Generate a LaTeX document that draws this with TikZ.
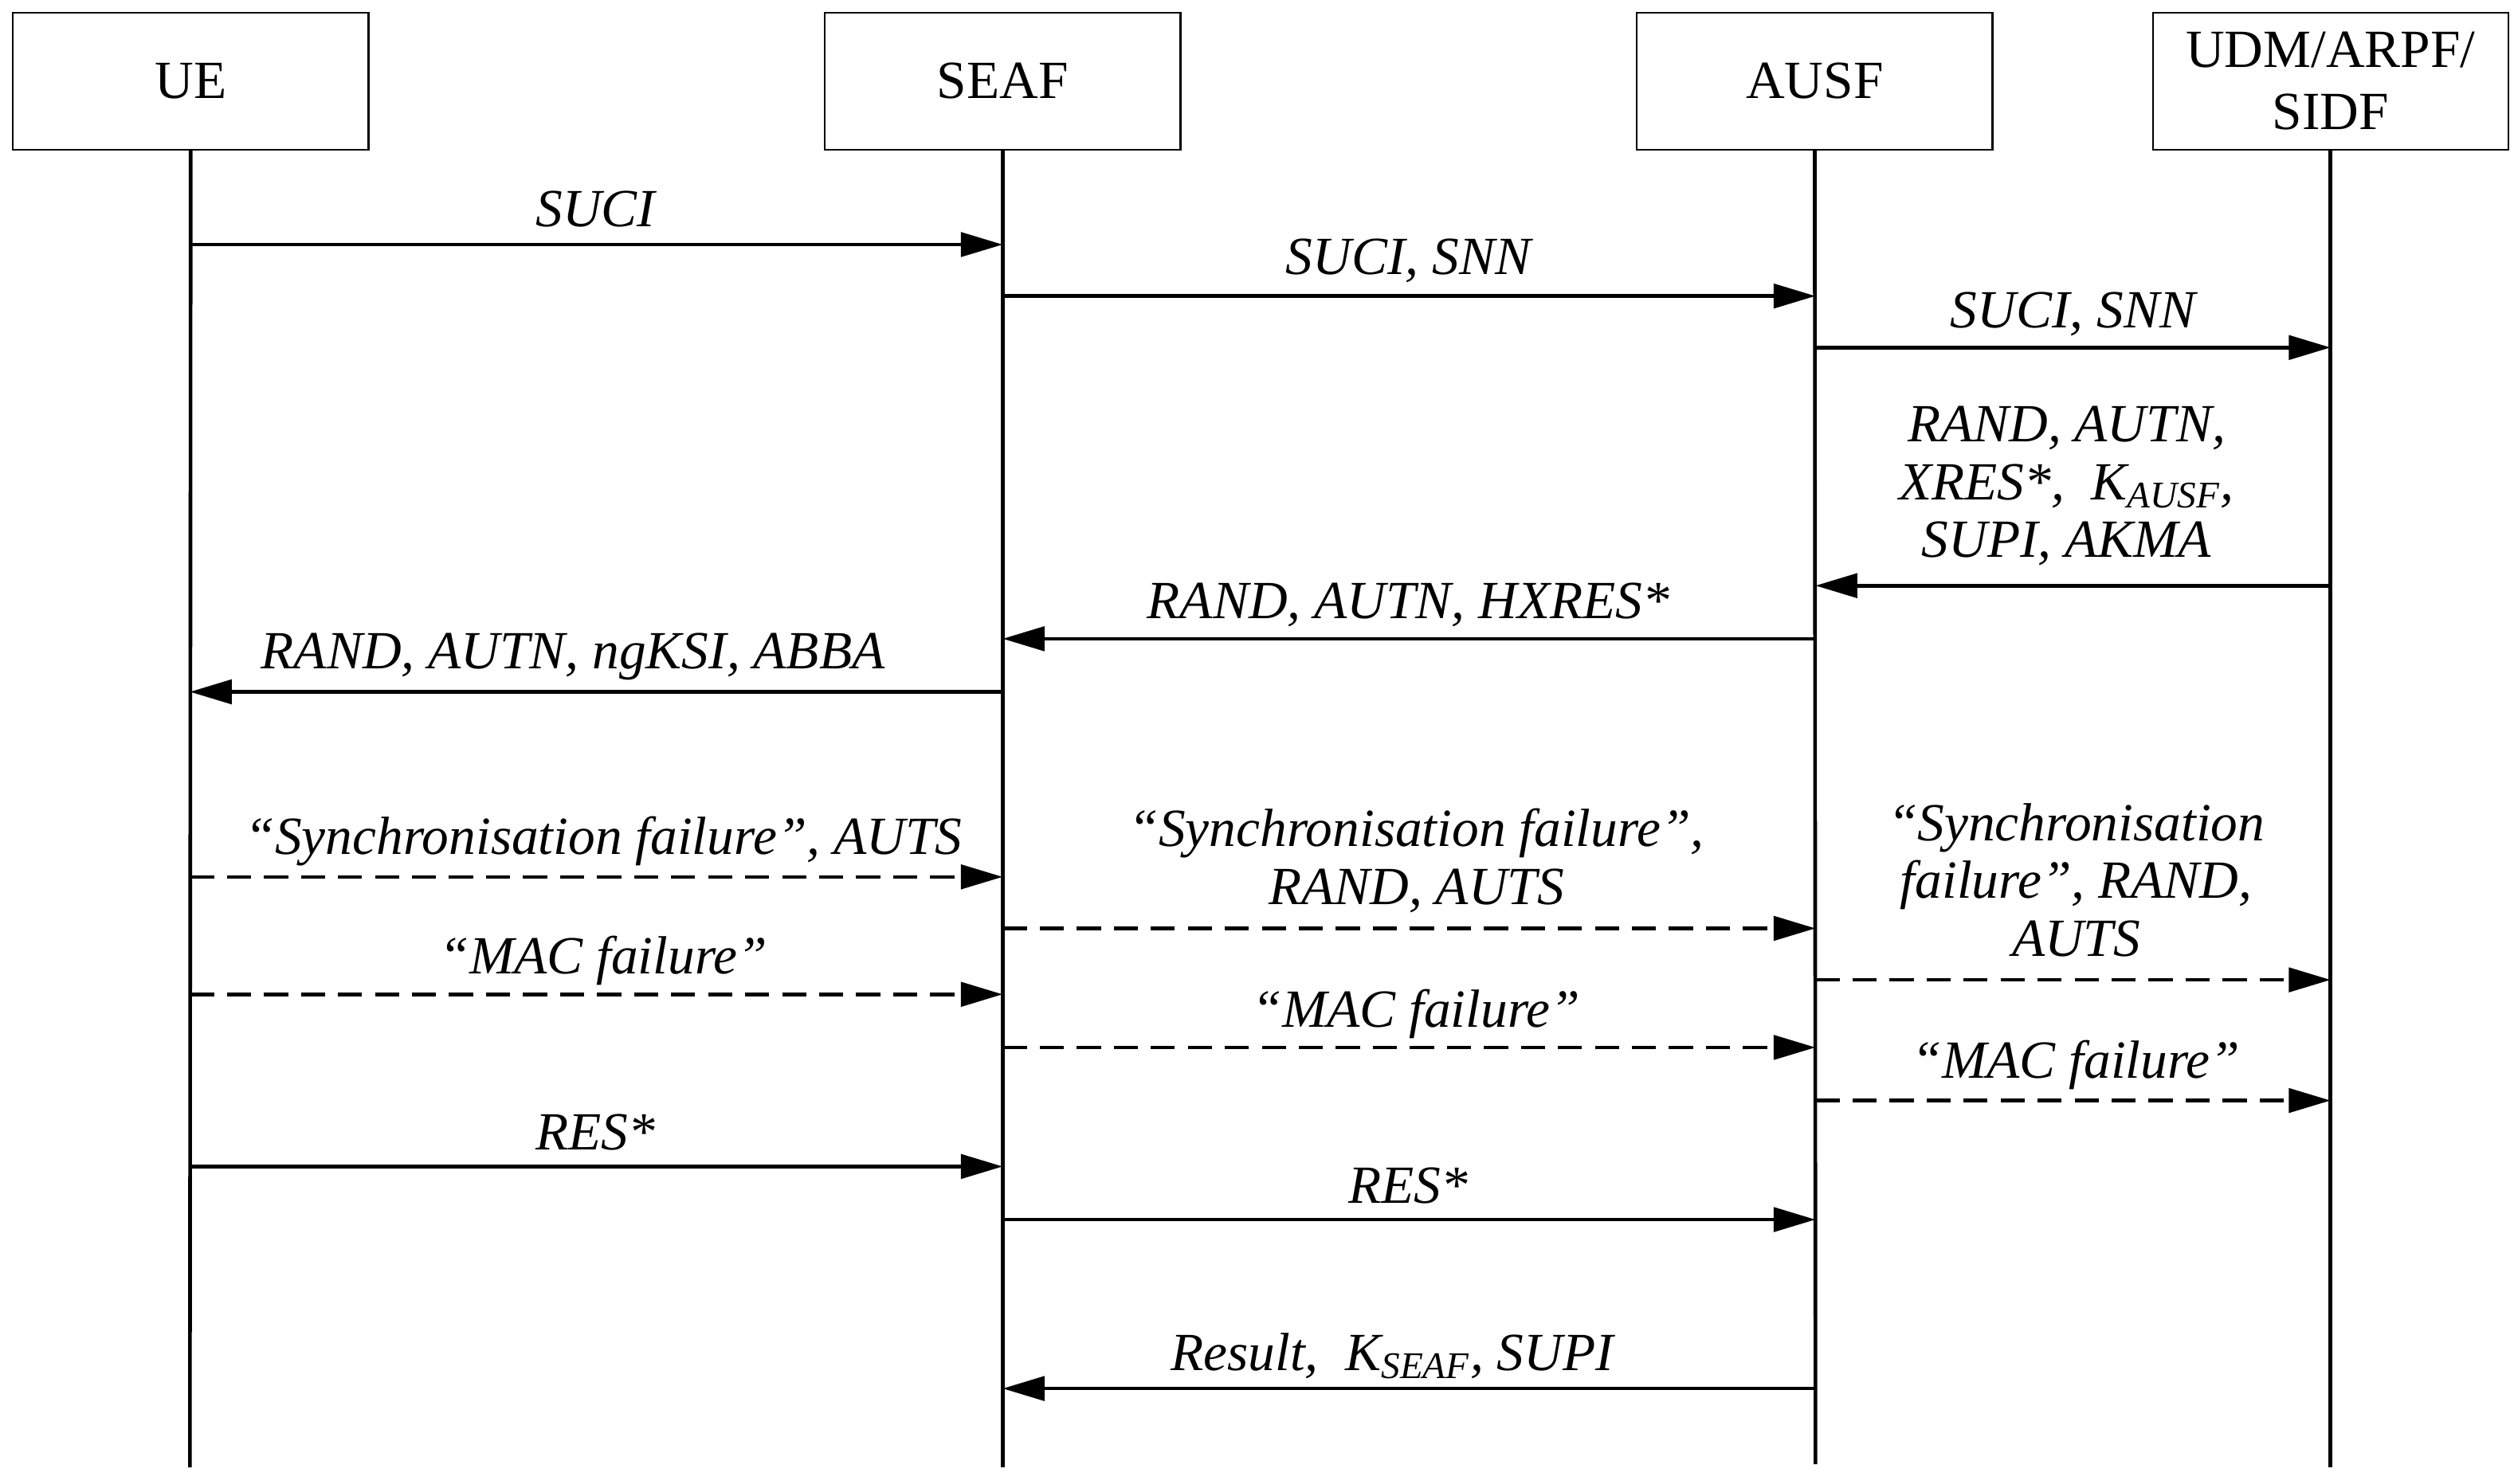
\documentclass[tikz,border=0pt]{standalone}
\usepackage{fontspec}
\setmainfont{Liberation Serif}
\usetikzlibrary{arrows.meta}
\tikzset{
  entity/.style={draw,line width=0.6pt,minimum width=4.42cm,minimum height=1.7cm,align=center,font=\fontsize{19}{22}\selectfont},
  life/.style={line width=1.3pt},
  msg/.style={line width=1.3pt,-{Triangle[length=0.52cm,width=0.3cm]}},
  fail/.style={msg,dash pattern=on 0.3cm off 0.16cm},
  lbl/.style={align=center,font=\fontsize{19}{20.5}\selectfont\itshape}
}
\begin{document}
\begin{tikzpicture}[x=0.02cm,y=-0.02cm]
  \useasboundingbox (0,0) rectangle (1562,922);
  % Entities
  \node[entity] (ue)   at (118.5,50.5)  {UE};
  \node[entity] (seaf) at (623,50.5)    {SEAF};
  \node[entity] (ausf) at (1127.5,50.5) {AUSF};
  \node[entity] (udm)  at (1448,50.5)   {UDM/ARPF/\\SIDF};
  % Lifelines
  \coordinate (ue end)   at (118,912);
  \coordinate (seaf end) at (623,912);
  \coordinate (ausf end) at (1128,910);
  \coordinate (udm end)  at (1448,912);
  \draw[life] (ue)   -- (ue end);
  \draw[life] (seaf) -- (seaf end);
  \draw[life] (ausf) -- (ausf end);
  \draw[life] (udm)  -- (udm end);
  % Points on lifelines
  \foreach \y in {152,184,216,364,397,430,545,577,609,618,651,684,725,758,863} {
    \coordinate (ue\y)   at (118,\y);
    \coordinate (seaf\y) at (623,\y);
    \coordinate (ausf\y) at (1128,\y);
    \coordinate (udm\y)  at (1448,\y);
  }
  % Authentication request
  \draw[msg] (ue152) -- (seaf152);
  \node[lbl] (l1) at (370,130) {SUCI};
  \draw[msg] (seaf184) -- (ausf184);
  \node[lbl] (l2) at (875,162) {SUCI, SNN};
  \draw[msg] (ausf216) -- (udm216);
  \node[lbl] (l3) at (1288,195) {SUCI, SNN};
  \draw[msg] (udm364) -- (ausf364);
  \node[lbl] (l4) at (1284,302) {RAND, AUTN,\\XRES*,\ \ K\textsubscript{AUSF},\\SUPI, AKMA};
  \draw[msg] (ausf397) -- (seaf397);
  \node[lbl] (l5) at (875,376) {RAND, AUTN, HXRES*};
  \draw[msg] (seaf430) -- (ue430);
  \node[lbl] (l6) at (356,408) {RAND, AUTN, ngKSI, ABBA};
  % Failure cases
  \draw[fail] (ue545) -- (seaf545);
  \node[lbl] (l7) at (375,523) {“Synchronisation failure”, AUTS};
  \draw[fail] (seaf577) -- (ausf577);
  \node[lbl] (l8) at (880,535) {“Synchronisation failure”,\\RAND, AUTS};
  \draw[fail] (ausf609) -- (udm609);
  \node[lbl] (l9) at (1290,547) {“Synchronisation\\failure”, RAND,\\AUTS};
  \draw[fail] (ue618) -- (seaf618);
  \node[lbl] (l10) at (375,597) {“MAC failure”};
  \draw[fail] (seaf651) -- (ausf651);
  \node[lbl] (l11) at (880,630) {“MAC failure”};
  \draw[fail] (ausf684) -- (udm684);
  \node[lbl] (l12) at (1290,662) {“MAC failure”};
  % Response
  \draw[msg] (ue725) -- (seaf725);
  \node[lbl] (l13) at (370,704) {RES*};
  \draw[msg] (seaf758) -- (ausf758);
  \node[lbl] (l14) at (875,737) {RES*};
  \draw[msg] (ausf863) -- (seaf863);
  \node[lbl] (l15) at (865,843) {Result,\ \ K\textsubscript{SEAF}, SUPI};
\end{tikzpicture}
\end{document}
